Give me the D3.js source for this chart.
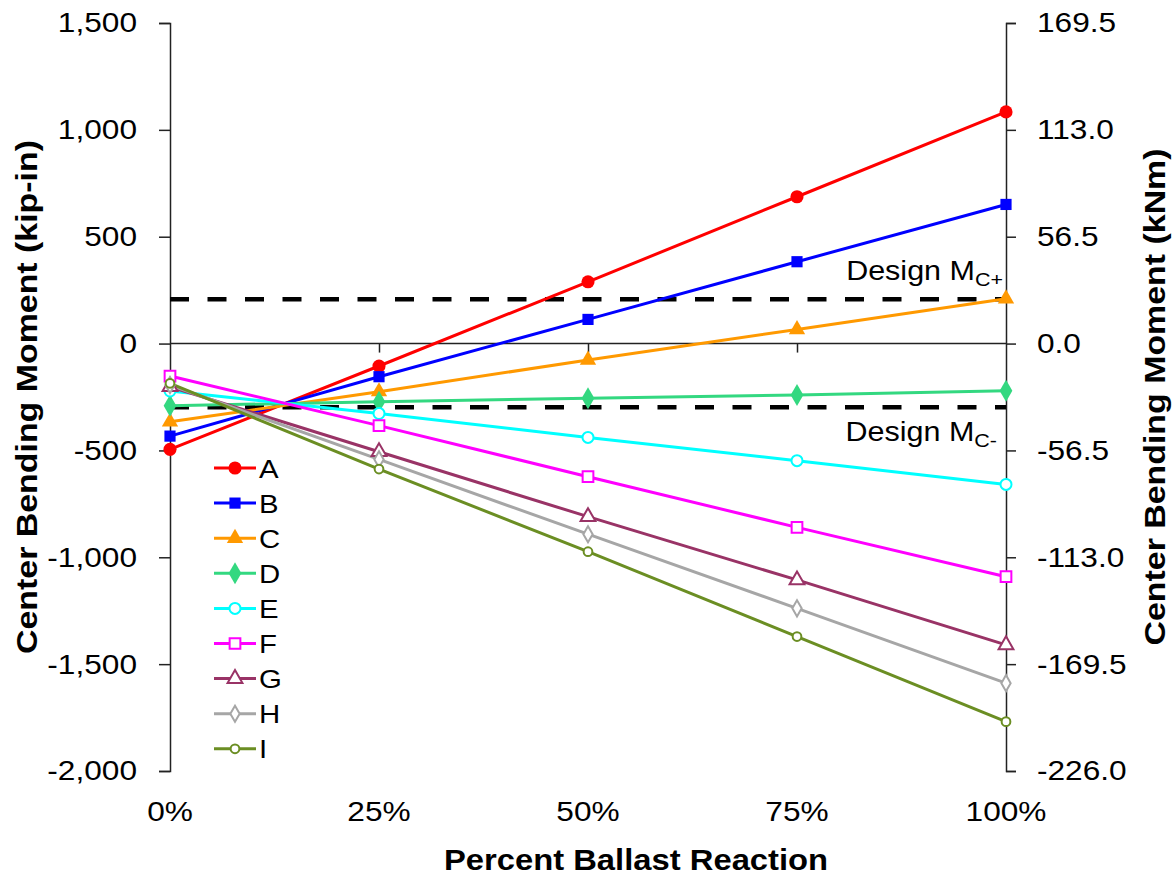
<!DOCTYPE html>
<html>
<head>
<meta charset="utf-8">
<script src="https://cdn.jsdelivr.net/npm/d3@7"></script>
<style>
  html, body { margin: 0; padding: 0; background: #fff; }
  svg { display: block; font-family: "Liberation Sans", Arial, sans-serif; }
</style>
</head>
<body>
<svg id="chart" width="1174" height="878"></svg>
<script>
// Percent of ballast reaction applied (x categories)
const ballastPct = [0, 25, 50, 75, 100];
const xTickLabels = ["0%", "25%", "50%", "75%", "100%"];

// Center bending moment (kip-in) for each tie case
const seriesNames = ["A", "B", "C", "D", "E", "F", "G", "H", "I"];
const valuesA = [-495, -105, 289, 687, 1084];
const valuesB = [-433, -155, 113, 383, 651];
const valuesC = [-366, -225, -77, 66, 210];
const valuesD = [-291, -272, -256, -241, -221];
const valuesE = [-222, -327, -439, -548, -659];
const valuesF = [-152, -384, -623, -860, -1091];
const valuesG = [-202, -506, -810, -1106, -1410];
const valuesH = [-194, -542, -892, -1239, -1589];
const valuesI = [-186, -587, -974, -1371, -1769];

// Design moment limits (kip-in)
const designPositive = 207;
const designNegative = -298;

// Axis ticks
const leftTicks = [-2000, -1500, -1000, -500, 0, 500, 1000, 1500];
const kipInToKNm = 0.113;
const rightTicks = [-226.0, -169.5, -113.0, -56.5, 0.0, 56.5, 113.0, 169.5];

const seriesValues = [valuesA, valuesB, valuesC, valuesD, valuesE, valuesF, valuesG, valuesH, valuesI];

const styles = [
  { color: "#FF0000", symbol: d3.symbolCircle,   size: 135, filled: true },
  { color: "#0000FF", symbol: d3.symbolSquare,   size: 125, filled: true },
  { color: "#FF9900", symbol: d3.symbolTriangle, size: 115, filled: true },
  { color: "#33D880", symbol: d3.symbolDiamond,  size: 140, filled: true },
  { color: "#00FFFF", symbol: d3.symbolCircle,   size: 95,  filled: false },
  { color: "#FF00FF", symbol: d3.symbolSquare,   size: 115, filled: false },
  { color: "#993366", symbol: d3.symbolTriangle, size: 95,  filled: false },
  { color: "#A6A6A6", symbol: d3.symbolDiamond,  size: 75,  filled: false },
  { color: "#6B8E23", symbol: d3.symbolCircle,   size: 60,  filled: false }
];

const svg = d3.select("#chart");
const SX = 1.13; // horizontal stretch applied to the text glyphs
const plot = { left: 170, right: 1006, top: 23, bottom: 771 };

const x = d3.scaleLinear().domain([0, 100]).range([plot.left, plot.right]);
const y = d3.scaleLinear().domain([-2000, 1500]).range([plot.bottom, plot.top]);
const yR = d3.scaleLinear().domain([-2000 * kipInToKNm, 1500 * kipInToKNm]).range([plot.bottom, plot.top]);

const fmtLeft = v => d3.format(",")(v).replace("\u2212", "-");
const fmtRight = v => d3.format(".1f")(v).replace("\u2212", "-");

// Place a text element with glyphs widened along the reading direction
function stretchedText(parent, tx, ty, str, opts) {
  const rot = opts.rotate ? ` rotate(${opts.rotate})` : "";
  const t = parent.append("text")
    .attr("transform", `translate(${tx},${ty})${rot} scale(${SX},1)`)
    .attr("text-anchor", opts.anchor || "start")
    .attr("font-size", opts.size)
    .attr("font-weight", opts.weight || "normal")
    .attr("fill", "#000");
  if (str !== null) t.text(str);
  return t;
}

function styleAxisText(g) {
  g.selectAll(".tick text").each(function () {
    const t = d3.select(this);
    const xx = +t.attr("x");
    t.attr("x", xx / SX).attr("transform", `scale(${SX},1)`)
      .attr("font-size", 28).attr("font-family", null).attr("fill", "#000");
  });
}

// Left axis
const gL = svg.append("g").attr("transform", `translate(${plot.left},0)`)
  .call(d3.axisLeft(y).tickValues(leftTicks).tickSize(11).tickPadding(22).tickFormat(fmtLeft));
gL.select(".domain").attr("stroke", "#222").attr("stroke-width", 1.5);
gL.selectAll(".tick line").attr("stroke", "#222").attr("stroke-width", 1.5);
styleAxisText(gL);

// Right axis (kNm)
const gR = svg.append("g").attr("transform", `translate(${plot.right},0)`)
  .call(d3.axisRight(yR).tickValues(rightTicks).tickSize(10).tickPadding(21).tickFormat(fmtRight));
gR.select(".domain").attr("stroke", "#222").attr("stroke-width", 1.5);
gR.selectAll(".tick line").attr("stroke", "#222").attr("stroke-width", 1.5);
styleAxisText(gR);

// Horizontal category axis along zero, ticks hanging below
const gX = svg.append("g").attr("transform", `translate(0,${y(0)})`)
  .call(d3.axisBottom(x).tickValues([25, 50, 75]).tickSize(9).tickFormat(""));
gX.select(".domain").remove();
gX.selectAll(".tick line").attr("stroke", "#222").attr("stroke-width", 1.5);
svg.append("line")
  .attr("x1", plot.left).attr("x2", plot.right)
  .attr("y1", y(0)).attr("y2", y(0))
  .attr("stroke", "#222").attr("stroke-width", 1.5);

// Category labels sit below the plot
ballastPct.forEach((p, i) => {
  stretchedText(svg, x(p), 821, xTickLabels[i], { anchor: "middle", size: 28 });
});

// Design limit lines
[designPositive, designNegative].forEach(v => {
  svg.append("line")
    .attr("x1", plot.left).attr("x2", plot.right)
    .attr("y1", y(v)).attr("y2", y(v))
    .attr("stroke", "#000").attr("stroke-width", 4.5)
    .attr("stroke-dasharray", "19,18.5");
});

function designLabel(ty, sub, endX) {
  const t = stretchedText(svg, endX, ty, null, { anchor: "end", size: 27 });
  t.append("tspan").text("Design M");
  t.append("tspan").attr("font-size", 19).attr("dy", 6).text(sub);
}
designLabel(y(designPositive) - 19, "C+", 1003);
designLabel(y(designNegative) + 34, "C-", 997);

// Series lines and markers
const line = d3.line().x((d, i) => x(ballastPct[i])).y(d => y(d));

seriesValues.forEach((vals, s) => {
  const st = styles[s];
  svg.append("path")
    .datum(vals)
    .attr("d", line)
    .attr("fill", "none")
    .attr("stroke", st.color)
    .attr("stroke-width", 3);
});

seriesValues.forEach((vals, s) => {
  const st = styles[s];
  const sym = d3.symbol().type(st.symbol).size(st.size);
  svg.append("g").selectAll("path")
    .data(vals)
    .join("path")
    .attr("d", sym)
    .attr("transform", (d, i) => `translate(${x(ballastPct[i])},${y(d)})`)
    .attr("fill", st.filled ? st.color : "#fff")
    .attr("stroke", st.color)
    .attr("stroke-width", st.filled ? 0 : 2);
});

// Legend
const legend = svg.append("g");
seriesNames.forEach((name, s) => {
  const st = styles[s];
  const ly = 468 + s * 35.1;
  legend.append("line")
    .attr("x1", 214).attr("x2", 256).attr("y1", ly).attr("y2", ly)
    .attr("stroke", st.color).attr("stroke-width", 3);
  legend.append("path")
    .attr("d", d3.symbol().type(st.symbol).size(st.size))
    .attr("transform", `translate(235,${ly})`)
    .attr("fill", st.filled ? st.color : "#fff")
    .attr("stroke", st.color)
    .attr("stroke-width", st.filled ? 0 : 2);
  stretchedText(legend, 259, ly + 9.5, name, { size: 26 });
});

// Axis titles
stretchedText(svg, 636, 870, "Percent Ballast Reaction", { anchor: "middle", size: 29, weight: "bold" });
stretchedText(svg, 37, (plot.top + plot.bottom) / 2, "Center Bending Moment (kip-in)",
  { anchor: "middle", size: 30, weight: "bold", rotate: -90 });
stretchedText(svg, 1165, (plot.top + plot.bottom) / 2, "Center Bending Moment (kNm)",
  { anchor: "middle", size: 30, weight: "bold", rotate: -90 });
</script>
</body>
</html>
